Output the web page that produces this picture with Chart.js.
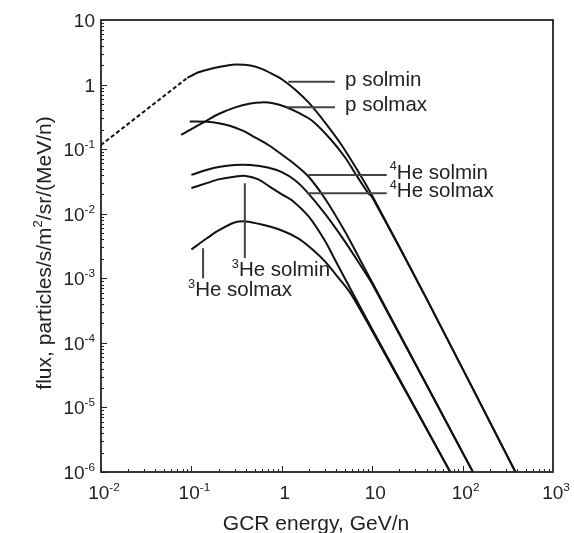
<!DOCTYPE html>
<html lang="en">
<head>
<meta charset="UTF-8">
<title>GCR flux</title>
<script src="https://cdn.jsdelivr.net/npm/chart.js"></script>
<style>
  html, body { margin: 0; padding: 0; background: #fff; }
  canvas { display: block; }
</style>
</head>
<body>
<canvas id="grafico" width="574" height="533"></canvas>
<script>
// ================= DATA (GeV/n , particles/s/m2/sr/(MeV/n)) =================
const pDashE = [0.01, 0.09];
const pDashF = [0.116, 1.27];

const pSolminE = [0.09, 0.12, 0.173, 0.25, 0.315, 0.45, 0.6, 0.8, 1.0, 1.4, 2.0, 3.0, 4.5, 7.0, 10, 40, 384];
const pSolminF = [1.27, 1.55, 1.79, 1.98, 2.04, 1.97, 1.75, 1.44, 1.21, 0.84, 0.52, 0.26, 0.12, 0.045, 0.019, 4.8e-4, 1e-6];

const pSolmaxE = [0.077, 0.1, 0.15, 0.2, 0.3, 0.45, 0.6, 0.8, 1.13, 1.5, 2.2, 3.5, 5, 6.5, 9, 10, 40, 384];
const pSolmaxF = [0.166, 0.205, 0.28, 0.35, 0.44, 0.51, 0.53, 0.515, 0.446, 0.37, 0.27, 0.14, 0.075, 0.042, 0.021, 0.018, 4.8e-4, 1e-6];

const he4SolminE = [0.096, 0.15, 0.2, 0.27, 0.38, 0.48, 0.71, 0.95, 1.4, 1.96, 3, 5, 7, 10.3, 130];
const he4SolminF = [0.267, 0.265, 0.252, 0.228, 0.19, 0.158, 0.116, 0.087, 0.058, 0.038, 0.0172, 0.0053, 0.0022, 8e-4, 1e-6];

const he4SolmaxE = [0.1, 0.15, 0.2, 0.3, 0.45, 0.7, 1.0, 1.4, 1.89, 3, 5, 7, 10.3, 130];
const he4SolmaxF = [0.040, 0.048, 0.053, 0.057, 0.057, 0.052, 0.044, 0.033, 0.022, 0.01, 0.0037, 0.0018, 7.6e-4, 1e-6];

const he3SolminE = [0.1, 0.15, 0.2, 0.3, 0.4, 0.55, 0.74, 1.0, 1.34, 2, 3, 3.9, 5.7, 10, 73];
const he3SolminF = [0.025, 0.030, 0.034, 0.0375, 0.0385, 0.034, 0.026, 0.020, 0.0155, 0.0089, 0.0038, 0.0019, 7e-4, 1.63e-4, 1e-6];

const he3SolmaxE = [0.1, 0.15, 0.2, 0.3, 0.4, 0.6, 1.0, 1.5, 2.0, 3.0, 4.0, 5.7, 10, 73];
const he3SolmaxF = [0.0028, 0.0042, 0.0055, 0.0073, 0.0076, 0.0068, 0.0055, 0.0042, 0.0031, 0.00183, 0.00112, 6e-4, 1.52e-4, 1e-6];

// tick labels: base + exponent
const xTicks = [0.01, 0.1, 1, 10, 100, 1000];
const xTickBase = ['10', '10', '1', '10', '10', '10'];
const xTickExp = ['-2', '-1', '', '', '2', '3'];
const yTicks = [10, 1, 0.1, 0.01, 0.001, 1e-4, 1e-5, 1e-6];
const yTickBase = ['10', '1', '10', '10', '10', '10', '10', '10'];
const yTickExp = ['', '', '-1', '-2', '-3', '-4', '-5', '-6'];

// curve labels (leader line in data units)
const hLeaders = [
  { e1: 1.18, e2: 3.88, f: 1.11,   pre: '',  text: 'p solmin' },
  { e1: 1.13, e2: 3.88, f: 0.446,  pre: '',  text: 'p solmax' },
  { e1: 1.96, e2: 14.5, f: 0.0399, pre: '4', text: 'He solmin' },
  { e1: 1.89, e2: 14.5, f: 0.0207, pre: '4', text: 'He solmax' }
];
const vLeaders = [
  { e: 0.39,   f1: 0.0296,  f2: 0.00205, pre: '3', text: 'He solmin', dx: -13 },
  { e: 0.1346, f1: 0.00292, f2: 0.001,   pre: '3', text: 'He solmax', dx: -15 }
];

const FONT = '"Liberation Sans", Arial, Helvetica, sans-serif';

function serie(es, fs, dashed) {
  return {
    data: es.map((e, i) => ({ x: e, y: fs[i] })),
    borderColor: '#111',
    borderWidth: 2,
    borderDash: dashed ? [4, 2.5] : [],
    pointRadius: 0,
    tension: 0.3,
    fill: false
  };
}

// draw text made of pieces, some as superscript
function drawParts(ctx, parts, x, y, size, align) {
  let w = 0;
  parts.forEach(p => {
    ctx.font = (p.sup ? size * 0.62 : size) + 'px ' + FONT;
    p.w = ctx.measureText(p.t).width;
    w += p.w;
  });
  let cx = align === 'right' ? x - w : align === 'center' ? x - w / 2 : x;
  parts.forEach(p => {
    ctx.font = (p.sup ? size * 0.62 : size) + 'px ' + FONT;
    ctx.fillText(p.t, cx, p.sup ? y - size * 0.42 : y);
    cx += p.w;
  });
}

const marco = {
  id: 'marco',
  afterDraw(chart) {
    const { ctx, chartArea: a, scales: { x, y } } = chart;
    ctx.save();
    ctx.fillStyle = '#222';
    ctx.textAlign = 'left';
    ctx.textBaseline = 'alphabetic';

    // frame
    ctx.strokeStyle = '#222';
    ctx.lineWidth = 1.8;
    ctx.strokeRect(a.left, a.top, a.right - a.left, a.bottom - a.top);

    // inside ticks, bottom and left
    ctx.lineWidth = 1;
    ctx.beginPath();
    for (let d = -2; d < 3; d++) {
      for (let m = 1; m < 10; m++) {
        const px = Math.round(x.getPixelForValue(m * Math.pow(10, d))) + 0.5;
        ctx.moveTo(px, a.bottom);
        ctx.lineTo(px, a.bottom - (m === 1 ? 6 : 3));
      }
    }
    for (let d = -6; d < 1; d++) {
      for (let m = 1; m < 10; m++) {
        const py = Math.round(y.getPixelForValue(m * Math.pow(10, d))) + 0.5;
        ctx.moveTo(a.left, py);
        ctx.lineTo(a.left + (m === 1 ? 6 : 3), py);
      }
    }
    ctx.stroke();

    // tick labels
    xTicks.forEach((v, i) => {
      drawParts(ctx, [{ t: xTickBase[i] }, { t: xTickExp[i], sup: true }],
        x.getPixelForValue(v) + 3, a.bottom + 27, 19, 'center');
    });
    yTicks.forEach((v, i) => {
      drawParts(ctx, [{ t: yTickBase[i] }, { t: yTickExp[i], sup: true }],
        a.left - 6, y.getPixelForValue(v) + 7, 19, 'right');
    });

    // axis titles
    drawParts(ctx, [{ t: 'GCR energy, GeV/n' }], (a.left + a.right) / 2 - 11, 530, 21, 'center');
    ctx.save();
    ctx.translate(51, (a.top + a.bottom) / 2 + 7);
    ctx.rotate(-Math.PI / 2);
    drawParts(ctx, [{ t: 'flux, particles/s/m' }, { t: '2', sup: true }, { t: '/sr/(MeV/n)' }], 0, 0, 21, 'center');
    ctx.restore();

    // curve labels
    ctx.strokeStyle = '#444';
    ctx.lineWidth = 2;
    hLeaders.forEach(l => {
      const x1 = x.getPixelForValue(l.e1), x2 = x.getPixelForValue(l.e2), py = y.getPixelForValue(l.f);
      ctx.beginPath();
      ctx.moveTo(x1, py);
      ctx.lineTo(x2, py);
      ctx.stroke();
      const parts = l.pre ? [{ t: l.pre, sup: true }, { t: l.text }] : [{ t: l.text }];
      drawParts(ctx, parts, x2 + (l.pre ? 3 : 10), py + 4, 20.5, 'left');
    });
    vLeaders.forEach(l => {
      const px = x.getPixelForValue(l.e), y1 = y.getPixelForValue(l.f1), y2 = y.getPixelForValue(l.f2);
      ctx.beginPath();
      ctx.moveTo(px, y1);
      ctx.lineTo(px, y2);
      ctx.stroke();
      drawParts(ctx, [{ t: l.pre, sup: true }, { t: l.text }], px + l.dx, y2 + 18, 20.5, 'left');
    });
    ctx.restore();
  }
};

new Chart(document.getElementById('grafico').getContext('2d'), {
  type: 'line',
  data: {
    datasets: [
      serie(pDashE, pDashF, true),
      serie(pSolminE, pSolminF),
      serie(pSolmaxE, pSolmaxF),
      serie(he4SolminE, he4SolminF),
      serie(he4SolmaxE, he4SolmaxF),
      serie(he3SolminE, he3SolminF),
      serie(he3SolmaxE, he3SolmaxF)
    ]
  },
  options: {
    responsive: false,
    animation: false,
    devicePixelRatio: 1,
    layout: { padding: { top: 20, right: 21, left: 0, bottom: 0 } },
    plugins: { legend: { display: false }, tooltip: { enabled: false } },
    scales: {
      x: {
        type: 'logarithmic', min: 0.01, max: 1000,
        ticks: { display: false }, grid: { display: false, drawTicks: false }, border: { display: false },
        afterFit(s) { s.height = 61; }
      },
      y: {
        type: 'logarithmic', min: 1e-6, max: 10,
        ticks: { display: false }, grid: { display: false, drawTicks: false }, border: { display: false },
        afterFit(s) { s.width = 101; }
      }
    }
  },
  plugins: [marco]
});
</script>
</body>
</html>
